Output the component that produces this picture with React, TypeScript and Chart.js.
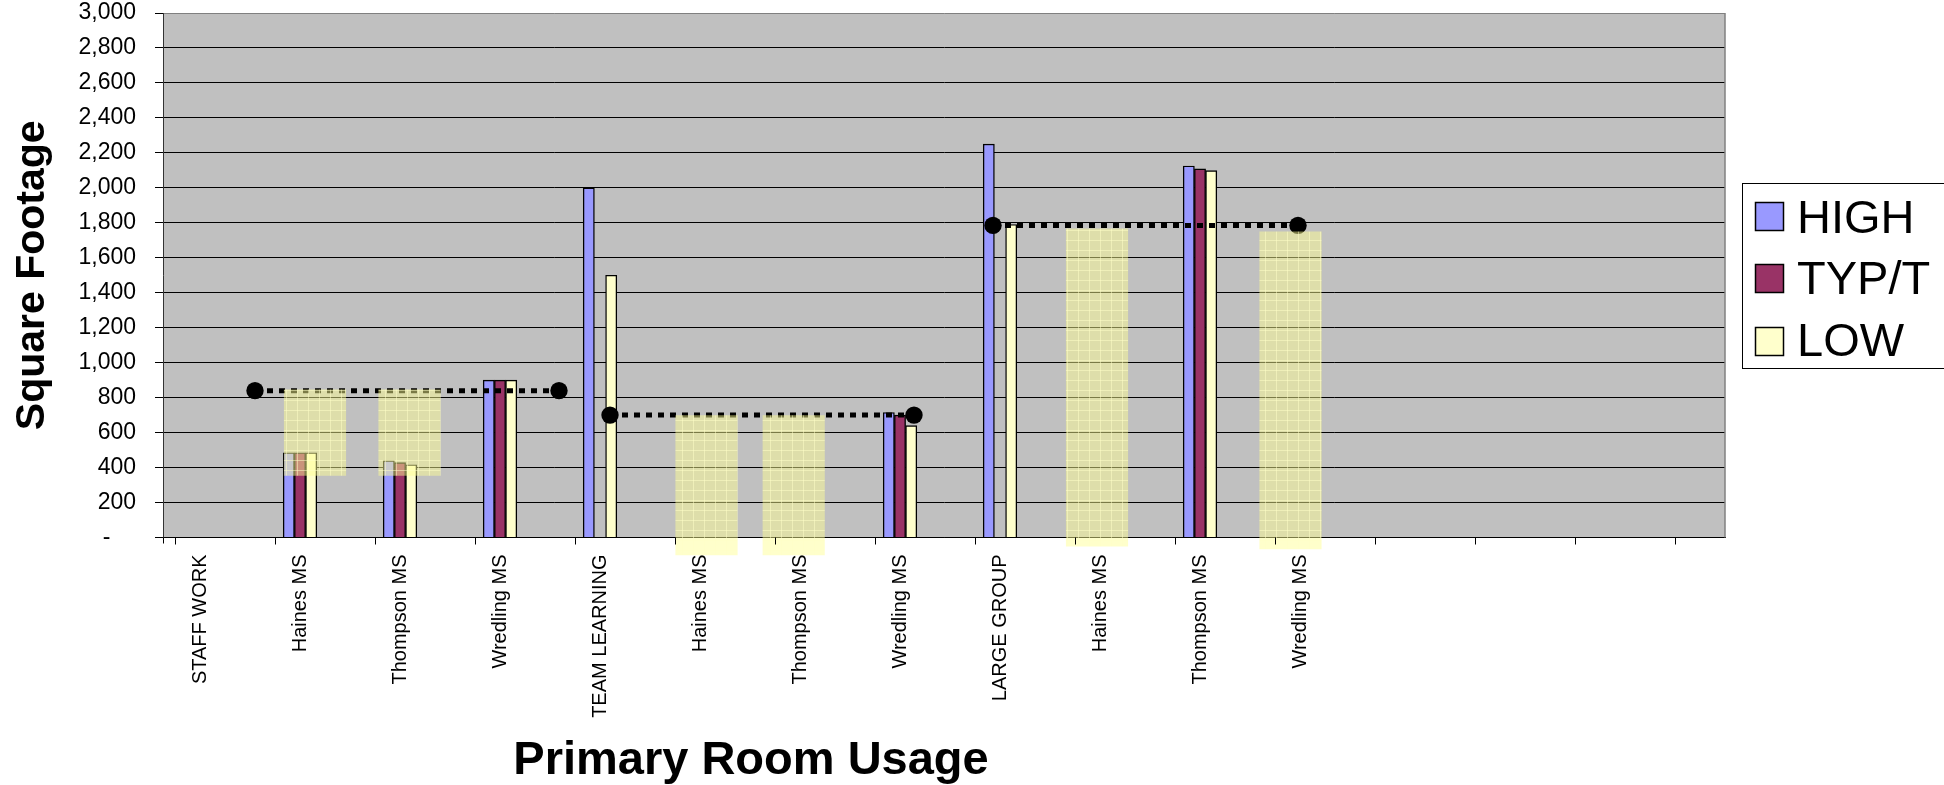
import React, { useEffect, useRef } from "react";
import { Chart, registerables } from "chart.js";

Chart.register(...registerables);

const FONT = '"Liberation Sans", Arial, sans-serif';

const categories = [
  "STAFF WORK",
  "Haines MS",
  "Thompson MS",
  "Wredling MS",
  "TEAM LEARNING",
  "Haines MS",
  "Thompson MS",
  "Wredling MS",
  "LARGE GROUP",
  "Haines MS",
  "Thompson MS",
  "Wredling MS",
];
const categoryIndex = [0, 1, 2, 3, 4, 5, 6, 7, 8, 9, 10, 11];

const seriesNames = ["HIGH", "TYP/T", "LOW"];
const seriesColors = ["#9999FF", "#993366", "#FFFFCC"];

const highValues = [null, 485, 440, 900, 2000, null, null, 715, 2250, null, 2125, null];
const typValues = [null, 485, 428, 900, null, null, null, 700, null, null, 2108, null];
const lowValues = [null, 485, 416, 900, 1500, null, null, 640, 1790, null, 2098, null];

// dotted target lines (value, start and end position on the category axis)
const targetValues = [840, 700, 1785];
const targetStartX = [0.55, 4.1, 7.93];
const targetEndX = [3.59, 7.14, 10.98];

// translucent yellow range boxes
const rangeX = [1.15, 2.095, 5.065, 5.937, 8.97, 10.905];
const rangeLow = [355, 355, -100, -100, -50, -65];
const rangeHigh = [845, 845, 698, 698, 1765, 1748];

const yTickValues = [0, 200, 400, 600, 800, 1000, 1200, 1400, 1600, 1800, 2000, 2200, 2400, 2600, 2800, 3000];
const xTickMarks = [-0.25, 0.75, 1.75, 2.75, 3.75, 4.75, 5.75, 6.75, 7.75, 8.75, 9.75, 10.75, 11.75, 12.75, 13.75, 14.75];

const X_MIN = -0.37;
const X_MAX = 15.25;

function makePattern(): CanvasPattern | string {
  const c = document.createElement("canvas");
  c.width = 11;
  c.height = 10;
  const g = c.getContext("2d");
  if (!g) return "rgba(255,255,146,0.48)";
  g.fillStyle = "rgba(255,255,146,0.48)";
  g.fillRect(0, 0, 11, 10);
  g.fillStyle = "rgba(255,255,200,0.5)";
  g.fillRect(0, 0, 11, 1);
  g.fillRect(0, 0, 1, 10);
  return g.createPattern(c, "repeat") || "rgba(255,255,146,0.48)";
}

const decorPlugin = {
  id: "decor",
  beforeDraw(chart: any) {
    const { ctx, chartArea: a } = chart;
    ctx.save();
    ctx.fillStyle = "#C0C0C0";
    ctx.fillRect(a.left, a.top, a.right - a.left, a.bottom - a.top);
    ctx.restore();
  },
  afterDraw(chart: any) {
    const { ctx, chartArea: a } = chart;
    const xs = chart.scales.x;
    ctx.save();
    // right border
    ctx.strokeStyle = "#808080";
    ctx.lineWidth = 1.5;
    ctx.beginPath();
    ctx.moveTo(a.right, a.top);
    ctx.lineTo(a.right, a.bottom);
    ctx.stroke();
    // x tick marks
    ctx.strokeStyle = "#000";
    ctx.lineWidth = 1;
    for (const v of xTickMarks) {
      const px = Math.round(xs.getPixelForValue(v)) + 0.5;
      ctx.beginPath();
      ctx.moveTo(px, a.bottom);
      ctx.lineTo(px, a.bottom + 7);
      ctx.stroke();
    }
    // y axis extends slightly below
    ctx.beginPath();
    ctx.moveTo(Math.round(a.left) + 0.5, a.bottom);
    ctx.lineTo(Math.round(a.left) + 0.5, a.bottom + 6);
    ctx.stroke();

    // axis titles
    ctx.fillStyle = "#000";
    ctx.font = `bold 47px ${FONT}`;
    ctx.textAlign = "center";
    ctx.textBaseline = "alphabetic";
    ctx.fillText("Primary Room Usage", 751, 774);

    ctx.save();
    ctx.translate(44, (a.top + a.bottom) / 2);
    ctx.rotate(-Math.PI / 2);
    ctx.font = `bold 41px ${FONT}`;
    ctx.fillText("Square Footage", 0, 0);
    ctx.restore();

    // legend
    ctx.strokeStyle = "#000";
    ctx.lineWidth = 1;
    ctx.fillStyle = "#FFFFFF";
    ctx.fillRect(1742, 183, 260, 186);
    ctx.strokeRect(1742.5, 183.5, 260, 185);
    const swatchTop = [202, 264, 327];
    const baselines = [233, 294, 356];
    ctx.font = `47px ${FONT}`;
    ctx.textAlign = "left";
    for (let i = 0; i < seriesNames.length; i++) {
      ctx.fillStyle = seriesColors[i];
      ctx.fillRect(1755, swatchTop[i], 29, 29);
      ctx.strokeStyle = "#000";
      ctx.lineWidth = 1.5;
      ctx.strokeRect(1755.5, swatchTop[i] + 0.5, 28, 28);
      ctx.fillStyle = "#000";
      ctx.fillText(seriesNames[i], 1797, baselines[i]);
    }
    ctx.restore();
  },
};

export default function App() {
  const ref = useRef<HTMLCanvasElement>(null);

  useEffect(() => {
    document.body.style.margin = "0";
    document.body.style.overflow = "hidden";
    const canvas = ref.current;
    if (!canvas) return;
    const pattern = makePattern();

    const seriesValues = [highValues, typValues, lowValues];
    const barSets = seriesValues.map((vals, s) => ({
      type: "bar" as const,
      label: seriesNames[s],
      data: categoryIndex.map((i) => ({ x: i, y: vals[i] })),
      backgroundColor: seriesColors[s],
      borderColor: "#000000",
      borderWidth: 1.4,
      barThickness: 11.2,
      order: 3,
    }));

    const lineSets = targetValues.map((v, k) => ({
      type: "line" as const,
      label: "target " + (k + 1),
      data: [
        { x: targetStartX[k], y: v },
        { x: targetEndX[k], y: v },
      ],
      borderColor: "#000000",
      borderWidth: 5,
      borderDash: [6, 6],
      pointRadius: 8.7,
      pointHoverRadius: 8.7,
      pointBackgroundColor: "#000000",
      pointBorderWidth: 0,
      fill: false,
      tension: 0,
      order: 2,
    }));

    const rangeSet = {
      type: "bar" as const,
      label: "range",
      grouped: false,
      data: rangeX.map((x, k) => ({ x, y: [rangeLow[k], rangeHigh[k]] })),
      backgroundColor: pattern,
      borderWidth: 0,
      barThickness: 61.5,
      maxBarThickness: 61.5,
      clip: false as any,
      order: 1,
    };

    const chart = new Chart(canvas, {
      type: "bar",
      data: { datasets: [...barSets, ...lineSets, rangeSet] as any },
      plugins: [decorPlugin],
      options: {
        animation: false,
        responsive: false,
        devicePixelRatio: 1,
        layout: { padding: { left: 0, top: 13, right: 219, bottom: 0 } },
        plugins: {
          legend: { display: false },
          tooltip: { enabled: false },
          title: { display: false },
        },
        scales: {
          x: {
            type: "linear",
            min: X_MIN,
            max: X_MAX,
            offset: false,
            afterBuildTicks: (s: any) => {
              s.ticks = categoryIndex.map((v) => ({ value: v }));
            },
            afterFit: (s: any) => {
              s.height = 785 - 537.5;
              s.paddingLeft = 0;
              s.paddingRight = 0;
            },
            grid: { display: false, drawTicks: false },
            border: { display: true, color: "#000000", width: 1 },
            ticks: {
              autoSkip: false,
              minRotation: 90,
              maxRotation: 90,
              padding: 17,
              color: "#000000",
              font: { family: FONT, size: 20 },
              callback: (v: any) => categories[v as number] ?? "",
            },
          },
          y: {
            min: 0,
            max: 3000,
            afterBuildTicks: (s: any) => {
              s.ticks = yTickValues.map((v) => ({ value: v }));
            },
            afterFit: (s: any) => {
              s.width = 163;
              s.paddingTop = 0;
              s.paddingBottom = 0;
            },
            grid: {
              color: (c: any) => (c.tick && c.tick.value === 3000 ? "#808080" : "#000000"),
              lineWidth: 1,
              drawTicks: true,
              tickLength: 8,
              tickColor: "#000000",
            },
            border: { display: true, color: "#333333", width: 1 },
            ticks: {
              padding: 19,
              color: "#000000",
              font: { family: FONT, size: 23, lineHeight: 1 },
              callback: (v: any) => (v === 0 ? "-    " : Number(v).toLocaleString("en-US")),
            },
          },
        },
      } as any,
    });

    return () => chart.destroy();
  }, []);

  return (
    <div style={{ width: 1944, height: 785, background: "#fff" }}>
      <canvas ref={ref} width={1944} height={785} style={{ display: "block" }} />
    </div>
  );
}
